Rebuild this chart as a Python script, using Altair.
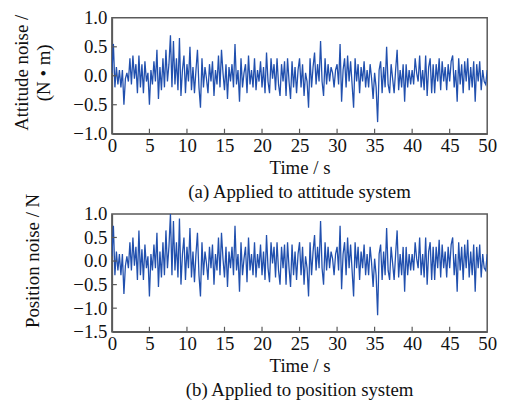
import altair as alt
import pandas as pd

# time step 0.2 s, 0 .. 50 s
attitude = [
    0.05, 0.55, -0.2, 0.15, -0.15,
    0.1, -0.2, 0.1, -0.5, -0.05,
    0.05, -0.1, 0.3, -0.15, 0.35,
    -0.05, 0.2, -0.3, 0.35, -0.2,
    0.2, -0.3, 0.25, -0.1, 0.05,
    -0.5, 0.1, -0.15, 0.25, -0.1,
    0.45, -0.4, 0.15, -0.25, 0.3,
    -0.2, 0.45, -0.1, 0.2, 0.7,
    -0.2, 0.6, -0.15, 0.3, -0.25,
    0.65, -0.35, 0.1, 0.35, -0.3,
    0.2, -0.1, 0.5, -0.25, 0.15,
    -0.3, 0.1, 0.45, -0.2, -0.55,
    0.3, -0.2, 0.15, -0.05, -0.3,
    0.2, -0.1, 0.25, -0.35, 0.1,
    -0.15, 0.35, -0.2, 0.45, 0.05,
    -0.25, 0.2, -0.4, 0.15, -0.1,
    0.2, -0.2, 0.55, -0.15, 0.1,
    -0.45, 0.3, -0.2, 0.05, 0.2,
    -0.3, 0.35, -0.15, 0.1, -0.2,
    0.3, -0.25, 0.1, -0.1, 0.25,
    -0.2, 0.15, -0.3, 0.4, -0.1,
    -0.3, 0.3, -0.05, 0.2, -0.25,
    0.3, -0.15, -0.35, 0.2, -0.1,
    0.25, -0.35, 0.3, -0.1, -0.4,
    0.25, -0.2, 0.15, -0.3, 0.1,
    0.3, -0.2, 0.2, -0.35, 0.05,
    -0.1, -0.55, 0.3, -0.2, 0.15,
    0.4, -0.15, 0.2, -0.1, 0.6,
    -0.1, -0.35, 0.3, -0.15, 0.2,
    -0.1, 0.15, 0.05, -0.2, 0.1,
    0.2, -0.15, 0.55, -0.45, 0.1,
    0.3, -0.2, 0.35, -0.1, 0.25,
    -0.15, -0.55, 0.3, -0.1, 0.2,
    -0.3, 0.15, -0.1, 0.25, -0.2,
    0.1, -0.2, 0.2, -0.05, -0.4,
    0.05, -0.2, -0.8, 0.1, 0.25,
    -0.3, 0.15, -0.2, 0.5, -0.15,
    -0.3, 0.2, -0.05, -0.3, 0.1,
    0.45, -0.25, 0.1, -0.2, 0.2,
    -0.45, 0.2, -0.2, 0.1, -0.15,
    0.1, -0.15, 0.3, 0.05, -0.1,
    0.35, -0.2, 0.1, -0.25, 0.35,
    -0.35, 0.15, 0.3, -0.3, 0.2,
    -0.3, 0.2, -0.1, 0.3, -0.25,
    0.25, -0.1, 0.15, -0.25, 0.2,
    -0.1, 0.25, 0.35, -0.2, 0.1,
    -0.45, 0.3, -0.15, 0.2, -0.3,
    0.25, -0.1, 0.3, -0.25, 0.15,
    -0.2, 0.25, -0.45, 0.2, -0.1,
    0.25, -0.25, 0.1, -0.1, -0.15,
    0.1,
]

position = [
    0.1, 0.75, -0.3, 0.2, -0.2,
    0.15, -0.3, 0.15, -0.7, -0.1,
    0.1, -0.15, 0.4, -0.2, 0.5,
    -0.1, 0.3, -0.4, 0.65, -0.3,
    0.25, -0.4, 0.35, -0.15, 0.1,
    -0.75, 0.15, -0.2, 0.35, -0.15,
    0.6, -0.55, 0.2, -0.35, 0.4,
    -0.3, 0.65, -0.15, 0.3, 1.0,
    -0.3, 0.85, -0.2, 0.4, -0.35,
    0.9, -0.5, 0.15, 0.5, -0.4,
    0.3, -0.15, 0.7, -0.35, 0.2,
    -0.45, 0.15, 0.6, -0.3, -0.75,
    0.4, -0.3, 0.2, -0.05, -0.4,
    0.3, -0.15, 0.35, -0.5, 0.15,
    -0.2, 0.5, -0.3, 0.6, 0.05,
    -0.35, 0.3, -0.55, 0.2, -0.15,
    0.3, -0.3, 0.75, -0.2, 0.15,
    -0.65, 0.4, -0.3, 0.05, 0.3,
    -0.45, 0.5, -0.2, 0.15, -0.3,
    0.4, -0.35, 0.15, -0.15, 0.35,
    -0.3, 0.2, -0.4, 0.55, -0.15,
    -0.45, 0.4, -0.05, 0.3, -0.35,
    0.4, -0.2, -0.5, 0.3, -0.15,
    0.35, -0.5, 0.4, -0.15, -0.55,
    0.35, -0.3, 0.2, -0.4, 0.15,
    0.4, -0.3, 0.3, -0.5, 0.1,
    -0.15, -0.75, 0.4, -0.3, 0.2,
    0.55, -0.2, 0.3, -0.15, 0.85,
    -0.15, -0.5, 0.4, -0.2, 0.3,
    -0.15, 0.2, 0.05, -0.3, 0.15,
    0.3, -0.2, 0.75, -0.6, 0.15,
    0.4, -0.3, 0.5, -0.15, 0.35,
    -0.2, -0.75, 0.4, -0.15, 0.3,
    -0.4, 0.2, -0.15, 0.35, -0.3,
    0.15, -0.3, 0.3, -0.05, -0.55,
    0.05, -0.3, -1.15, 0.15, 0.35,
    -0.4, 0.2, -0.3, 0.7, -0.2,
    -0.4, 0.3, -0.05, -0.4, 0.15,
    0.65, -0.35, 0.15, -0.3, 0.3,
    -0.65, 0.3, -0.3, 0.15, -0.2,
    0.15, -0.2, 0.4, 0.05, -0.15,
    0.5, -0.3, 0.15, -0.35, 0.5,
    -0.5, 0.2, 0.4, -0.4, 0.3,
    -0.4, 0.3, -0.15, 0.45, -0.35,
    0.35, -0.15, 0.2, -0.35, 0.3,
    -0.15, 0.35, 0.5, -0.3, 0.15,
    -0.65, 0.4, -0.2, 0.3, -0.4,
    0.35, -0.15, 0.45, -0.35, 0.2,
    -0.3, 0.35, -0.65, 0.3, -0.15,
    0.35, -0.35, 0.15, -0.15, -0.2,
    0.15,
]

x_ticks = [0, 5, 10, 15, 20, 25, 30, 35, 40, 45, 50]
y_ticks_a = [-1.0, -0.5, 0.0, 0.5, 1.0]
y_ticks_b = [-1.5, -1.0, -0.5, 0.0, 0.5, 1.0]

time = [round(i * 0.2, 1) for i in range(len(attitude))]

FONT = "Liberation Serif"
FS = 19
LINE = "#2150ae"
AX = "#5a5a5a"
W = 379


def panel(values, ydom, yticks, ytitle, title, h, title_x, title_y):
    df = pd.DataFrame({"t": time, "v": values})
    xs = alt.Scale(domain=[0, 50], nice=False, zero=False)
    ys = alt.Scale(domain=ydom, nice=False, zero=False)
    xa = alt.Axis(values=x_ticks, tickSize=0, labelPadding=3, title="Time / s",
                  titlePadding=3, format="d", grid=False, labelOverlap=False)
    ya = alt.Axis(values=yticks, tickSize=0, labelPadding=5, format=".1f",
                  title=ytitle, titleX=title_x, titleY=title_y,
                  titleLineHeight=22, grid=False, labelOverlap=False)
    line = alt.Chart(df).mark_line(color=LINE, strokeWidth=1.3, clip=True).encode(
        x=alt.X("t:Q", scale=xs, axis=xa),
        y=alt.Y("v:Q", scale=ys, axis=ya),
    )
    xt = alt.Chart(pd.DataFrame({"t": x_ticks[1:-1]})).mark_rule(
        color=AX, strokeWidth=1.2).encode(
        x=alt.X("t:Q", scale=xs, axis=xa), y=alt.value(h), y2=alt.value(h - 5))
    yt = alt.Chart(pd.DataFrame({"v": yticks[1:-1]})).mark_rule(
        color=AX, strokeWidth=1.2).encode(
        y=alt.Y("v:Q", scale=ys, axis=ya), x=alt.value(0), x2=alt.value(5))
    return alt.layer(line, xt, yt).properties(
        width=W, height=h,
        title=alt.TitleParams(title, orient="bottom", font=FONT, fontSize=FS,
                              fontWeight="normal", color="#111", offset=6))


top = panel(attitude, [-1.0, 1.0], y_ticks_a, ["Attitude noise /", "(N • m)"],
            "(a) Applied to attitude system", 117, -81, 55)
bottom = panel(position, [-1.5, 1.0], y_ticks_b, "Position noise / N",
               "(b) Applied to position system", 119, -70, 47)

chart = alt.vconcat(top, bottom, spacing=81, bounds="flush").properties(
    padding={"left": 12, "top": 6, "right": 10, "bottom": 5}
).configure(background="white").configure_view(
    stroke=AX, strokeWidth=1.5).configure_axis(
    domainColor=AX, domainWidth=1.5, labelFont=FONT, titleFont=FONT,
    labelFontSize=FS, titleFontSize=FS, titleFontWeight="normal",
    labelColor="#111", titleColor="#111", labelFlush=False,
    labelOverlap=False, labelBound=False,
)

chart.save("out.html", embed_options={"renderer": "svg", "actions": False})
